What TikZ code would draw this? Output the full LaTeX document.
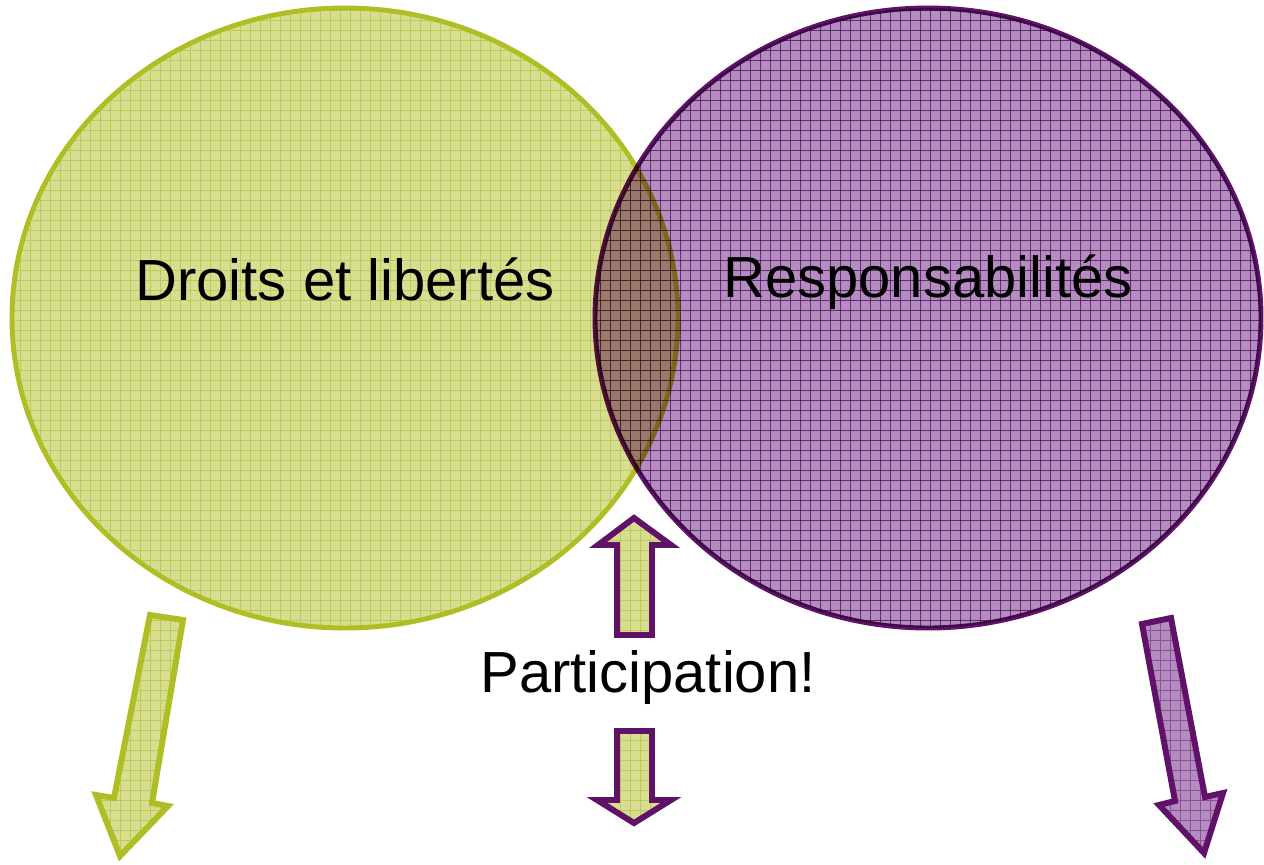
\documentclass[tikz,border=0pt]{standalone}
\usepackage{fontspec}
\setmainfont{Liberation Sans}
\definecolor{gB}{RGB}{176,190,38}
\definecolor{gF}{RGB}{216,222,144}
\definecolor{gL}{RGB}{190,201,92}
\definecolor{pB}{RGB}{96,18,104}
\definecolor{pF}{RGB}{180,140,192}
\definecolor{pL}{RGB}{138,82,150}
\newcommand\mygrid[5]{%
  \foreach \i in {#2,...,#3} \draw[#1,line width=0.4pt] (\i*10,#4*10) -- (\i*10,#5*10);
  \foreach \j in {#4,...,#5} \draw[#1,line width=0.4pt] (#2*10,\j*10) -- (#3*10,\j*10);}
\tikzset{
  gborder/.style={draw=gB,line width=2.8pt},
  pborder/.style={draw=pB,line width=2.8pt},
  garrow/.style={draw=gB,line width=3.4pt,line join=miter},
  parrow/.style={draw=pB,line width=3.4pt,line join=miter},
  label/.style={font=\fontsize{33}{36}\selectfont,text=black,inner sep=0pt}
}
\begin{document}
\begin{tikzpicture}[x=0.02cm,y=-0.02cm]
\useasboundingbox (0,0) rectangle (1264,865);
% left ellipse
\begin{scope}
  \clip (345,318) ellipse [x radius=333, y radius=310];
  \fill[gF] (0,0) rectangle (690,640);
  \mygrid{gL}{0}{69}{0}{64}
\end{scope}
\draw[gborder] (345,318) ellipse [x radius=333, y radius=310];
% right ellipse (multiply)
\begin{scope}[blend mode=multiply]
  \begin{scope}
    \clip (928,318) ellipse [x radius=333, y radius=310];
    \fill[pF] (590,0) rectangle (1264,640);
    \mygrid{pL}{59}{127}{0}{64}
  \end{scope}
  \draw[pborder] (928,318) ellipse [x radius=333, y radius=310];
\end{scope}
% left arrow
\coordinate (la1) at (150,615);
\coordinate (la2) at (183,620);
\coordinate (la3) at (152,803);
\coordinate (la4) at (168,806);
\coordinate (la5) at (120,856);
\coordinate (la6) at (96,795);
\coordinate (la7) at (114,798);
\begin{scope}
  \clip (la1) -- (la2) -- (la3) -- (la4) -- (la5) -- (la6) -- (la7) -- cycle;
  \fill[gF] (80,600) rectangle (200,865);
  \mygrid{gL}{8}{20}{60}{87}
\end{scope}
\draw[garrow] (la1) -- (la2) -- (la3) -- (la4) -- (la5) -- (la6) -- (la7) -- cycle;
% right arrow
\coordinate (ra1) at (1142,624);
\coordinate (ra2) at (1171,618);
\coordinate (ra3) at (1205,797);
\coordinate (ra4) at (1223,793);
\coordinate (ra5) at (1204,853);
\coordinate (ra6) at (1159,805);
\coordinate (ra7) at (1175,801);
\begin{scope}
  \clip (ra1) -- (ra2) -- (ra3) -- (ra4) -- (ra5) -- (ra6) -- (ra7) -- cycle;
  \fill[pF] (1130,600) rectangle (1240,865);
  \mygrid{pL}{113}{124}{60}{87}
\end{scope}
\draw[parrow] (ra1) -- (ra2) -- (ra3) -- (ra4) -- (ra5) -- (ra6) -- (ra7) -- cycle;
% middle up arrow
\coordinate (ua1) at (634,518);
\coordinate (ua2) at (671,545);
\coordinate (ua3) at (652,545);
\coordinate (ua4) at (652,635);
\coordinate (ua5) at (617,635);
\coordinate (ua6) at (617,545);
\coordinate (ua7) at (598,545);
\begin{scope}
  \clip (ua1) -- (ua2) -- (ua3) -- (ua4) -- (ua5) -- (ua6) -- (ua7) -- cycle;
  \fill[gF] (590,510) rectangle (680,640);
  \mygrid{gL}{59}{68}{51}{64}
\end{scope}
\draw[parrow] (ua1) -- (ua2) -- (ua3) -- (ua4) -- (ua5) -- (ua6) -- (ua7) -- cycle;
% middle down arrow
\coordinate (da1) at (617,731);
\coordinate (da2) at (652,731);
\coordinate (da3) at (652,800);
\coordinate (da4) at (671,800);
\coordinate (da5) at (634,823);
\coordinate (da6) at (597,800);
\coordinate (da7) at (617,800);
\begin{scope}
  \clip (da1) -- (da2) -- (da3) -- (da4) -- (da5) -- (da6) -- (da7) -- cycle;
  \fill[gF] (590,725) rectangle (680,830);
  \mygrid{gL}{59}{68}{72}{83}
\end{scope}
\draw[parrow] (da1) -- (da2) -- (da3) -- (da4) -- (da5) -- (da6) -- (da7) -- cycle;
% texts
\node[label] (droits) at (345,279) {Droits et libertés};
\node[label] (resp) at (928,282) {Responsabilités};
\node[label] (part) at (648,678) {Participation!};
\end{tikzpicture}
\end{document}
